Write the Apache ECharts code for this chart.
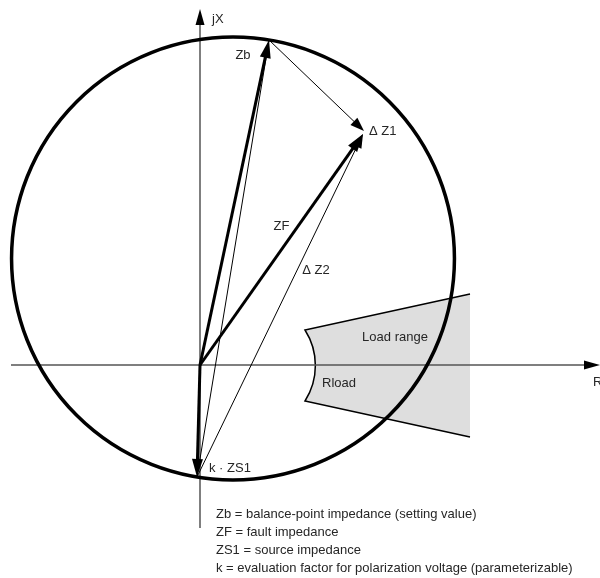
<!DOCTYPE html>
<html>
<head>
<meta charset="utf-8">
<script src="https://cdn.jsdelivr.net/npm/echarts@6.0.0/dist/echarts.min.js"></script>
<style>
  html, body { margin: 0; padding: 0; background: #fff; }
  #chart { width: 600px; height: 578px; }
</style>
</head>
<body>
<div id="chart"></div>
<script>
// impedance plane points (R, jX), 1 unit = 10 px
const ORIGIN = [0, 0];
const ZB = [6.9, 32.5];
const ZF = [16.3, 23.1];
const KZS1 = [-0.3, -11.2];
const DZ1_END = [16.4, 23.4];

// vectors: from -> to, kind
const vectorFrom = [ORIGIN, ORIGIN, ORIGIN, ZB, KZS1, KZS1];
const vectorTo = [ZB, ZF, KZS1, DZ1_END, ZF, ZB];
const vectorKind = ['thick', 'thick', 'thick', 'thin', 'thin', 'plain'];

// R and jX axes
const axisFrom = [[-18.9, 0], [0, -16.3]];
const axisTo = [[40, 0], [0, 35.6]];

// load range (left edge is an arc)
const loadTop = [[10.5, 3.5], [27.0, 7.1]];
const loadBottom = [[10.5, -3.6], [27.0, -7.2]];
const loadArcRadius = 6.6;

const labelTexts = ['jX', 'Zb', 'Δ Z1', 'ZF', 'Δ Z2', 'Load range', 'Rload', 'k · ZS1', 'R'];
const notes = [
  'Zb = balance-point impedance (setting value)',
  'ZF = fault impedance',
  'ZS1 = source impedance',
  'k = evaluation factor for polarization voltage (parameterizable)',
];

const FONT = '13px "Liberation Sans", Arial, sans-serif';
const TEXT_COLOR = '#262626';

const VECTOR_STYLE = {
  thick: { width: 3, head: [18, 5.5] },
  thin: { width: 1, head: [14, 5] },
  plain: { width: 1, head: null },
};

const mid = (a, b) => [(a[0] + b[0]) / 2, (a[1] + b[1]) / 2];

// mho circle: diameter between Zb and -k*ZS1
const circleCenter = mid(ZB, KZS1);
const circleRadius = Math.hypot(ZB[0] - KZS1[0], ZB[1] - KZS1[1]) / 2;

// label anchors + pixel offsets
const labelLayout = [
  { at: axisTo[1], dx: 12, dy: 10, align: 'left' },
  { at: ZB, dx: -26, dy: 15, align: 'center' },
  { at: DZ1_END, dx: 5, dy: 0, align: 'left' },
  { at: mid(ORIGIN, ZF), dx: 0, dy: -23, align: 'center' },
  { at: mid(KZS1, ZF), dx: 36, dy: -35, align: 'center' },
  { at: loadTop[0], dx: 90, dy: 7, align: 'center' },
  { at: loadBottom[0], dx: 34, dy: -18, align: 'center' },
  { at: KZS1, dx: 12, dy: -9, align: 'left' },
  { at: axisTo[0], dx: -7, dy: 17, align: 'left' },
];

function arrowShape(p0, p1, len, half) {
  const dx = p1[0] - p0[0];
  const dy = p1[1] - p0[1];
  const l = Math.hypot(dx, dy);
  const ux = dx / l, uy = dy / l;
  const bx = p1[0] - ux * len, by = p1[1] - uy * len;
  return {
    lineEnd: [p1[0] - ux * len * 0.7, p1[1] - uy * len * 0.7],
    points: [p1, [bx - uy * half, by + ux * half], [bx + uy * half, by - ux * half]],
  };
}

function renderVector(params, api) {
  const p0 = api.coord([api.value(0), api.value(1)]);
  const p1 = api.coord([api.value(2), api.value(3)]);
  const st = VECTOR_STYLE[vectorKind[params.dataIndex]];
  let end = p1;
  const children = [];
  if (st.head) {
    const a = arrowShape(p0, p1, st.head[0], st.head[1]);
    end = a.lineEnd;
    children.push({ type: 'polygon', shape: { points: a.points }, style: { fill: '#000' } });
  }
  children.unshift({
    type: 'line',
    shape: { x1: p0[0], y1: p0[1], x2: end[0], y2: end[1] },
    style: { stroke: '#000', lineWidth: st.width },
  });
  return { type: 'group', children };
}

function renderAxis(params, api) {
  const p0 = api.coord([api.value(0), api.value(1)]);
  const p1 = api.coord([api.value(2), api.value(3)]);
  const a = arrowShape(p0, p1, 16, 4.5);
  return {
    type: 'group',
    children: [
      { type: 'line', shape: { x1: p0[0], y1: p0[1], x2: a.lineEnd[0], y2: a.lineEnd[1] }, style: { stroke: '#555', lineWidth: 1.5 } },
      { type: 'polygon', shape: { points: a.points }, style: { fill: '#000' } },
    ],
  };
}

function renderCircle(params, api) {
  const c = api.coord([api.value(0), api.value(1)]);
  const r = api.size([api.value(2), 0])[0];
  return {
    type: 'circle',
    shape: { cx: c[0], cy: c[1], r },
    style: { fill: 'none', stroke: '#000', lineWidth: 3.5 },
  };
}

function renderLoad(params, api) {
  const tl = api.coord(loadTop[0]);
  const tr = api.coord(loadTop[1]);
  const bl = api.coord(loadBottom[0]);
  const br = api.coord(loadBottom[1]);
  const r = api.size([loadArcRadius, 0])[0];
  const fillPath = `M${tl[0]} ${tl[1]} L${tr[0]} ${tr[1]} L${br[0]} ${br[1]} L${bl[0]} ${bl[1]} A${r} ${r} 0 0 0 ${tl[0]} ${tl[1]} Z`;
  const edgePath = `M${tr[0]} ${tr[1]} L${tl[0]} ${tl[1]} A${r} ${r} 0 0 1 ${bl[0]} ${bl[1]} L${br[0]} ${br[1]}`;
  return {
    type: 'group',
    children: [
      { type: 'path', shape: { pathData: fillPath }, style: { fill: '#dedede', stroke: null } },
      { type: 'path', shape: { pathData: edgePath }, style: { fill: 'none', stroke: '#000', lineWidth: 1.5 } },
    ],
  };
}

function renderLabel(params, api) {
  const i = params.dataIndex;
  const lay = labelLayout[i];
  const p = api.coord(lay.at);
  return {
    type: 'text',
    x: p[0] + lay.dx,
    y: p[1] + lay.dy,
    style: {
      text: labelTexts[i],
      font: FONT,
      fill: TEXT_COLOR,
      align: lay.align,
      verticalAlign: 'middle',
    },
  };
}

const chart = echarts.init(document.getElementById('chart'), null, { renderer: 'canvas' });

const option = {
  animation: false,
  grid: { left: 0, right: 0, top: 0, bottom: 0 },
  xAxis: { type: 'value', min: -20, max: 40, show: false },
  yAxis: { type: 'value', min: -21.3, max: 36.5, show: false },
  graphic: [
    {
      type: 'text',
      left: 216,
      top: 505,
      style: { text: notes.join('\n'), font: FONT, fill: TEXT_COLOR, lineHeight: 18 },
    },
  ],
  series: [
    {
      name: 'Load range',
      type: 'custom',
      z: 1,
      silent: true,
      clip: false,
      renderItem: renderLoad,
      data: [[loadTop[0][0], loadTop[0][1]]],
    },
    {
      name: 'axes',
      type: 'custom',
      z: 2,
      silent: true,
      clip: false,
      renderItem: renderAxis,
      data: axisTo.map((t, i) => [...axisFrom[i], ...t]),
    },
    {
      name: 'circle',
      type: 'custom',
      z: 3,
      silent: true,
      clip: false,
      renderItem: renderCircle,
      data: [[circleCenter[0], circleCenter[1], circleRadius]],
    },
    {
      name: 'vectors',
      type: 'custom',
      z: 4,
      silent: true,
      clip: false,
      renderItem: renderVector,
      data: vectorTo.map((t, i) => [...vectorFrom[i], ...t]),
    },
    {
      name: 'labels',
      type: 'custom',
      z: 5,
      silent: true,
      clip: false,
      renderItem: renderLabel,
      data: labelLayout.map(l => [l.at[0], l.at[1]]),
    },
  ],
};

chart.setOption(option);
window.addEventListener('resize', chart.resize);
</script>
</body>
</html>
